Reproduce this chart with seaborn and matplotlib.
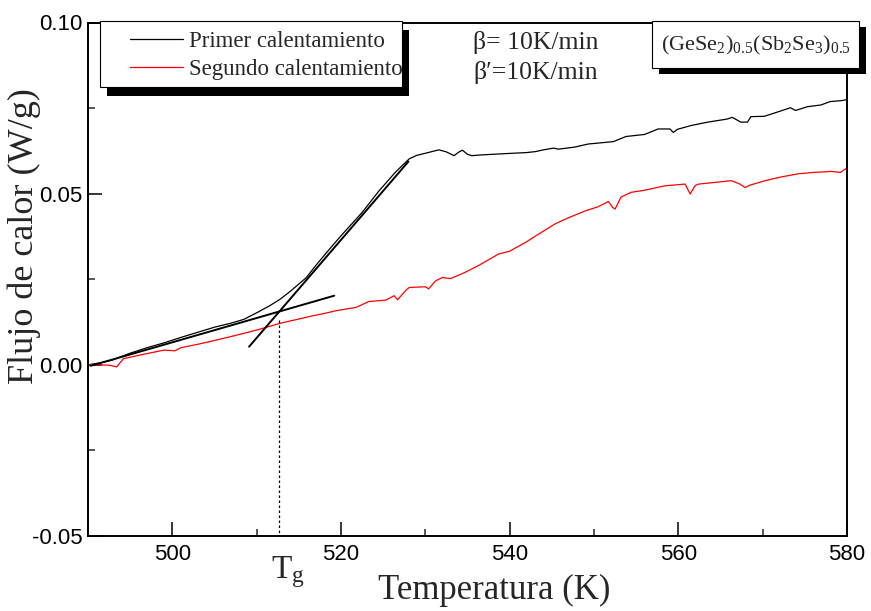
import numpy as np
import pandas as pd
import matplotlib
matplotlib.use('Agg')
import matplotlib.pyplot as plt
import matplotlib.transforms as mtransforms
from matplotlib.patches import Rectangle
from matplotlib.ticker import MultipleLocator, FormatStrFormatter
import seaborn as sns

# ---------------- data ----------------
temp_first = [490.0, 491.5, 493.0, 495.0, 497.0, 499.0, 501.0, 503.0, 505.0, 507.0,
              508.5, 510.0, 511.5, 512.8, 514.0, 515.9, 517.0, 518.5, 520.0, 522.5,
              524.5, 526.5, 528.1, 529.0, 530.0, 531.6, 532.5, 533.4, 534.0, 534.4,
              535.0, 535.5, 536.5, 538.0, 540.3, 542.0, 543.1, 544.0, 545.2, 545.8,
              547.7, 549.3, 552.3, 553.8, 556.0, 557.6, 559.0, 559.4, 559.9, 561.5,
              563.5, 565.8, 566.4, 567.4, 568.2, 568.6, 570.2, 571.7, 573.3, 573.9,
              575.3, 576.9, 578.0, 579.4, 580.0]
flux_first = [0.0000, 0.0006, 0.0015, 0.0034, 0.0050, 0.0064, 0.0080, 0.0095, 0.0110, 0.0122,
              0.0133, 0.0152, 0.0172, 0.0192, 0.0215, 0.0255, 0.0290, 0.0334, 0.0377, 0.0445,
              0.0508, 0.0564, 0.0602, 0.0612, 0.0618, 0.0628, 0.0622, 0.0611, 0.0622, 0.0627,
              0.0615, 0.0611, 0.0613, 0.0615, 0.0618, 0.0620, 0.0623, 0.0628, 0.0633, 0.0630,
              0.0636, 0.0645, 0.0652, 0.0667, 0.0673, 0.0689, 0.0689, 0.0679, 0.0688, 0.0699,
              0.0709, 0.0718, 0.0723, 0.0709, 0.0709, 0.0725, 0.0726, 0.0738, 0.0751, 0.0743,
              0.0754, 0.0759, 0.0769, 0.0772, 0.0775]

temp_second = [490.0, 491.0, 492.5, 493.4, 494.2, 495.5, 497.0, 499.0, 500.3, 501.0,
               503.0, 504.8, 507.0, 508.8, 510.5, 512.7, 514.5, 516.6, 518.0, 519.4,
               521.8, 523.3, 525.3, 526.3, 526.7, 527.7, 528.1, 530.0, 530.4, 531.2,
               532.0, 533.0, 534.7, 536.3, 538.7, 540.0, 541.9, 543.5, 545.4, 547.0,
               549.0, 550.5, 551.7, 552.2, 552.5, 553.2, 554.4, 556.0, 558.4, 560.8,
               561.4, 562.0, 562.4, 564.0, 566.3, 567.3, 567.9, 568.5, 570.3, 572.0,
               574.2, 576.0, 578.2, 579.2, 579.8, 580.0]
flux_second = [0.0000, 0.0000, -0.0001, -0.0006, 0.0018, 0.0025, 0.0033, 0.0043, 0.0041, 0.0050,
               0.0060, 0.0070, 0.0083, 0.0094, 0.0105, 0.0121, 0.0131, 0.0143, 0.0150, 0.0158,
               0.0168, 0.0185, 0.0189, 0.0202, 0.0190, 0.0218, 0.0226, 0.0228, 0.0222, 0.0245,
               0.0255, 0.0252, 0.0270, 0.0290, 0.0324, 0.0332, 0.0358, 0.0383, 0.0412, 0.0430,
               0.0450, 0.0462, 0.0477, 0.0460, 0.0455, 0.0490, 0.0504, 0.0510, 0.0523, 0.0528,
               0.0499, 0.0524, 0.0528, 0.0532, 0.0538, 0.0528, 0.0518, 0.0525, 0.0538, 0.0548,
               0.0558, 0.0562, 0.0565, 0.0562, 0.0572, 0.0574]

tangent_low_x = [490.3, 519.2]
tangent_low_y = [-0.0003, 0.0202]
tangent_high_x = [509.1, 528.0]
tangent_high_y = [0.0053, 0.0594]
tg_value = 512.7
tg_line_y = [0.013, -0.05]

series_labels = ['Primer calentamiento', 'Segundo calentamiento']
x_ticks = [500, 520, 540, 560, 580]
y_ticks = [-0.05, 0.00, 0.05, 0.10]
rate_lines = ['\u03b2= 10K/min', '\u03b2\u2032=10K/min']
sample_label = r'(GeSe$_2$)$_{0.5}$(Sb$_2$Se$_3$)$_{0.5}$'

# ---------------- style ----------------
sns.set_style('ticks')
plt.rcParams['font.family'] = ['Liberation Serif', 'DejaVu Serif']
plt.rcParams['mathtext.fontset'] = 'custom'
plt.rcParams['mathtext.rm'] = 'Liberation Serif'
plt.rcParams['mathtext.it'] = 'Liberation Serif:italic'
plt.rcParams['mathtext.bf'] = 'Liberation Serif:bold'
plt.rcParams['axes.unicode_minus'] = False

W, H = 871, 611
fig = plt.figure(figsize=(W / 100, H / 100), dpi=100)
fig.patch.set_facecolor('white')
ax = fig.add_axes([88 / W, 1 - 536 / H, 759 / W, 513.5 / H])
ax.set_facecolor('white')

df1 = pd.DataFrame({'T': temp_first, 'F': flux_first})
df2 = pd.DataFrame({'T': temp_second, 'F': flux_second})
sns.lineplot(data=df1, x='T', y='F', ax=ax, color='black', lw=0.9,
             estimator=None, sort=False, legend=False)
sns.lineplot(data=df2, x='T', y='F', ax=ax, color='#ff0000', lw=0.9,
             estimator=None, sort=False, legend=False)
sns.lineplot(x=tangent_low_x, y=tangent_low_y, ax=ax, color='black', lw=1.4,
             estimator=None, sort=False, legend=False)
sns.lineplot(x=tangent_high_x, y=tangent_high_y, ax=ax, color='black', lw=1.4,
             estimator=None, sort=False, legend=False)
sns.lineplot(x=[tg_value, tg_value], y=tg_line_y, ax=ax, color='black', lw=0.9,
             linestyle=(0, (2, 2)), estimator=None, sort=False, legend=False)

ax.set_xlim(490, 580)
ax.set_ylim(-0.05, 0.10)
ax.set_xticks(x_ticks)
ax.set_yticks(y_ticks)
ax.xaxis.set_minor_locator(MultipleLocator(10))
ax.yaxis.set_minor_locator(MultipleLocator(0.025))
ax.yaxis.set_major_formatter(FormatStrFormatter('%.2f'))
ax.tick_params(which='major', direction='in', length=10, width=1.1,
               labelsize=16, labelfontfamily='Liberation Sans', colors='black')
ax.tick_params(which='minor', direction='in', length=5, width=1.1)
ax.tick_params(axis='x', which='major', pad=5.6)
ax.tick_params(axis='y', which='major', pad=3.8)
ax.tick_params(top=False, right=False, which='both')
for s in ax.spines.values():
    s.set_linewidth(1.4)
    s.set_color('black')

ax.set_xlabel('Temperatura (K)', fontsize=25)
ax.xaxis.set_label_coords(0.5356, -0.074)
ax.set_ylabel('Flujo de calor (W/g)', fontsize=26)
ax.yaxis.set_label_coords(-0.062, 0.585)

# Tg label
blend = mtransforms.blended_transform_factory(ax.transData, fig.transFigure)
tg_tr = mtransforms.offset_copy(blend, fig=fig, x=-8, y=0, units='dots')
ax.text(tg_value, 1 - 578 / H, r'T$_{\mathrm{g}}$', transform=tg_tr,
        ha='left', va='baseline', fontsize=24)

# ---------------- boxes (figure pixels, from top-left) ----------------
def rect(x0, y0, x1, y1, **kw):
    r = Rectangle((x0 / W, 1 - y1 / H), (x1 - x0) / W, (y1 - y0) / H,
                  transform=fig.transFigure, **kw)
    fig.add_artist(r)
    return r

rect(107, 29.7, 408.7, 96.3, facecolor='black', edgecolor='none', zorder=2)
rect(100, 20.7, 401.7, 87.3, facecolor='white', edgecolor='black', lw=0.8, zorder=2.5)
rect(659.3, 26.7, 866.3, 74.3, facecolor='black', edgecolor='none', zorder=2)
rect(652.3, 20.7, 859.3, 68.3, facecolor='white', edgecolor='black', lw=0.8, zorder=2.5)

handles = ax.get_lines()[:2]
leg = fig.legend(handles=handles, labels=series_labels, loc='upper left',
                 bbox_to_anchor=(130 / W, 1 - 31 / H), frameon=False,
                 fontsize=16.5, handlelength=2.3, handletextpad=0.27,
                 labelspacing=0.32, borderpad=0, borderaxespad=0)
leg.set_zorder(5)

fig.text(756 / W, 1 - 45.5 / H, sample_label, ha='center', va='center',
         fontsize=16, zorder=4)
fig.text(473 / W, 1 - 43 / H, rate_lines[0], ha='left', va='center',
         fontsize=18.5, zorder=4)
fig.text(473 / W, 1 - 72 / H, rate_lines[1], ha='left', va='center',
         fontsize=18.5, zorder=4)

fig.savefig('out.png', dpi=100, facecolor='white')
